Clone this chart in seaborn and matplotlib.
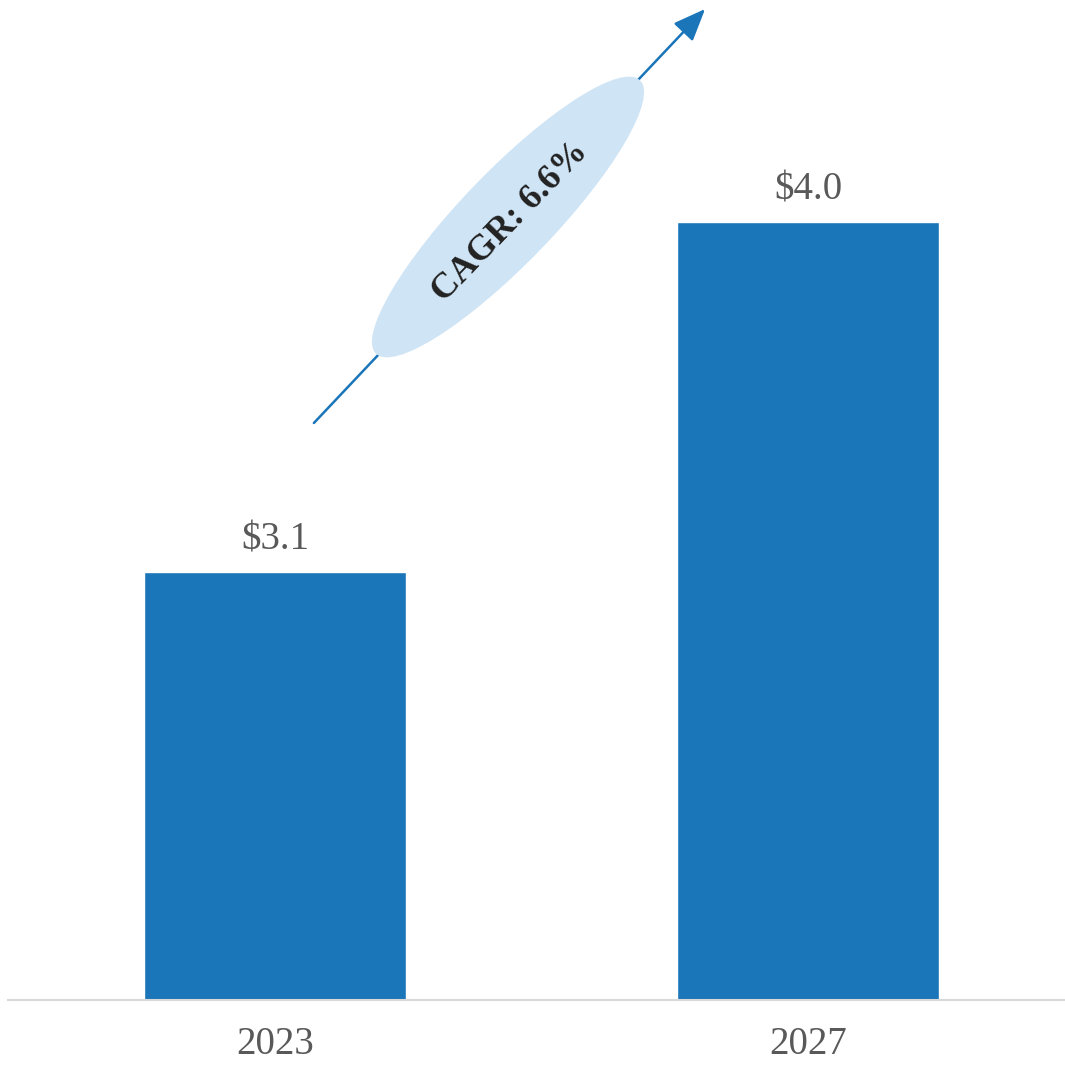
import matplotlib
matplotlib.use("Agg")
import matplotlib.pyplot as plt
import seaborn as sns
import pandas as pd
from matplotlib.patches import Ellipse, FancyArrowPatch

# --- data ---
years = ["2023", "2027"]
values = [3.1, 4.0]
cagr_label = "CAGR: 6.6%"

df = pd.DataFrame({"year": years, "value": values})

sns.set_theme(style="white")
plt.rcParams["font.family"] = ["Liberation Serif", "DejaVu Serif"]

fig = plt.figure(figsize=(10.65, 10.66), dpi=100)
ax = fig.add_axes([8 / 1065, 66 / 1066, 1057 / 1065, 1000 / 1066])

sns.barplot(data=df, x="year", y="value", color="#1a75b9", saturation=1,
            width=0.49, ax=ax)

ax.set_xlim(-0.501, 1.482)
ax.set_ylim(2.0, 4.571)

ax.bar_label(ax.containers[0], labels=[f"${v:.1f}" for v in values],
             padding=10, fontsize=28, color="#595959")

ax.set_xlabel("")
ax.set_ylabel("")
ax.set_yticks([])
ax.tick_params(axis="x", length=0, pad=19, labelsize=28, labelcolor="#595959")
for side in ["top", "right", "left"]:
    ax.spines[side].set_visible(False)
ax.spines["bottom"].set_color("#d9d9d9")
ax.spines["bottom"].set_linewidth(1.5)


# CAGR arrow and ellipse, placed in pixel space (inches) of the figure
def px(x, y):
    return (x / 100, (1066 - y) / 100)


arrow = FancyArrowPatch(px(312, 425), px(707, 7), transform=fig.dpi_scale_trans,
                        arrowstyle="-|>,head_length=1.1,head_width=0.45",
                        mutation_scale=18, color="#1a75b9", linewidth=1.8)
fig.patches.append(arrow)

ell = Ellipse(px(508, 217), width=3.8, height=0.92, angle=46,
              transform=fig.dpi_scale_trans, facecolor="#cfe4f5", edgecolor="none")
fig.patches.append(ell)

cx, cy = px(510, 222)
fig.text(cx / 10.65, cy / 10.66, cagr_label, rotation=46, rotation_mode="anchor",
         ha="center", va="center", fontsize=26, fontweight="bold", color="#222222")

fig.savefig("out.png", dpi=100)
